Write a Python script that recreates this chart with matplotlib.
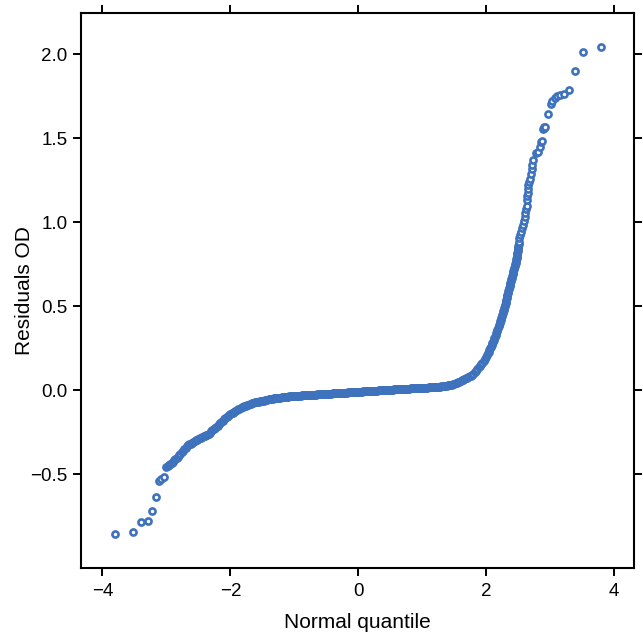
import matplotlib
matplotlib.use("Agg")
import matplotlib.pyplot as plt

plt.rcParams['font.family'] = ['Liberation Sans', 'DejaVu Sans']

# Theoretical normal quantiles (x) and sorted residuals (y)
lower_tail_q = [-3.80, -3.52, -3.39, -3.29, -3.22, -3.16, -3.12, -3.08, -3.04]
lower_tail_r = [-0.857, -0.845, -0.786, -0.778, -0.718, -0.635, -0.542, -0.528, -0.518]

body_q = [
    -3.00, -2.98, -2.96, -2.94, -2.92, -2.90, -2.88, -2.86, -2.84, -2.82,
    -2.80, -2.78, -2.76, -2.74, -2.72, -2.70, -2.68, -2.66, -2.64, -2.62,
    -2.60, -2.58, -2.56, -2.54, -2.52, -2.50, -2.48, -2.46, -2.44, -2.42,
    -2.40, -2.38, -2.36, -2.34, -2.32, -2.30, -2.28, -2.26, -2.24, -2.22,
    -2.20, -2.18, -2.16, -2.14, -2.12, -2.10, -2.08, -2.06, -2.04, -2.02,
    -2.00, -1.98, -1.96, -1.94, -1.92, -1.90, -1.88, -1.86, -1.84, -1.82,
    -1.80, -1.78, -1.76, -1.74, -1.72, -1.70, -1.68, -1.66, -1.64, -1.62,
    -1.60, -1.58, -1.56, -1.54, -1.52, -1.50, -1.48, -1.46, -1.44, -1.42,
    -1.40, -1.38, -1.36, -1.34, -1.32, -1.30, -1.28, -1.26, -1.24, -1.22,
    -1.20, -1.18, -1.16, -1.14, -1.12, -1.10, -1.08, -1.06, -1.04, -1.02,
    -1.00, -0.98, -0.96, -0.94, -0.92, -0.90, -0.88, -0.86, -0.84, -0.82,
    -0.80, -0.78, -0.76, -0.74, -0.72, -0.70, -0.68, -0.66, -0.64, -0.62,
    -0.60, -0.58, -0.56, -0.54, -0.52, -0.50, -0.48, -0.46, -0.44, -0.42,
    -0.40, -0.38, -0.36, -0.34, -0.32, -0.30, -0.28, -0.26, -0.24, -0.22,
    -0.20, -0.18, -0.16, -0.14, -0.12, -0.10, -0.08, -0.06, -0.04, -0.02,
    0.00, 0.02, 0.04, 0.06, 0.08, 0.10, 0.12, 0.14, 0.16, 0.18,
    0.20, 0.22, 0.24, 0.26, 0.28, 0.30, 0.32, 0.34, 0.36, 0.38,
    0.40, 0.42, 0.44, 0.46, 0.48, 0.50, 0.52, 0.54, 0.56, 0.58,
    0.60, 0.62, 0.64, 0.66, 0.68, 0.70, 0.72, 0.74, 0.76, 0.78,
    0.80, 0.82, 0.84, 0.86, 0.88, 0.90, 0.92, 0.94, 0.96, 0.98,
    1.00, 1.02, 1.04, 1.06, 1.08, 1.10, 1.12, 1.14, 1.16, 1.18,
    1.20, 1.22, 1.24, 1.26, 1.28, 1.30, 1.32, 1.34, 1.36, 1.38,
    1.40, 1.42, 1.44, 1.46, 1.48, 1.50, 1.52, 1.54, 1.56, 1.58,
    1.60, 1.62, 1.64, 1.66, 1.68, 1.70, 1.72, 1.74, 1.76, 1.78,
    1.80, 1.82, 1.84, 1.86, 1.88, 1.90, 1.92, 1.94, 1.96, 1.98,
    2.00]
body_r = [
    -0.455, -0.449, -0.443, -0.436, -0.430, -0.424, -0.418, -0.411, -0.405, -0.396,
    -0.387, -0.378, -0.369, -0.360, -0.350, -0.341, -0.332, -0.327, -0.322, -0.317,
    -0.313, -0.308, -0.303, -0.298, -0.294, -0.290, -0.287, -0.283, -0.279, -0.275,
    -0.272, -0.268, -0.264, -0.258, -0.252, -0.245, -0.239, -0.232, -0.225, -0.217,
    -0.210, -0.202, -0.195, -0.187, -0.180, -0.172, -0.165, -0.158, -0.152, -0.147,
    -0.142, -0.137, -0.133, -0.128, -0.124, -0.119, -0.114, -0.109, -0.105, -0.102,
    -0.099, -0.096, -0.093, -0.090, -0.087, -0.083, -0.080, -0.077, -0.074, -0.072,
    -0.071, -0.069, -0.067, -0.065, -0.064, -0.062, -0.061, -0.059, -0.058, -0.056,
    -0.054, -0.052, -0.051, -0.049, -0.048, -0.047, -0.046, -0.045, -0.044, -0.043,
    -0.042, -0.041, -0.041, -0.040, -0.039, -0.038, -0.037, -0.036, -0.035, -0.034,
    -0.0340, -0.0335, -0.0330, -0.0325, -0.0320, -0.0315, -0.0310, -0.0305, -0.0300, -0.0295,
    -0.0290, -0.0285, -0.0280, -0.0275, -0.0270, -0.0265, -0.0260, -0.0255, -0.0250, -0.0245,
    -0.0240, -0.0235, -0.0230, -0.0225, -0.0220, -0.0215, -0.0210, -0.0205, -0.0200, -0.0195,
    -0.0190, -0.0185, -0.0180, -0.0175, -0.0170, -0.0165, -0.0160, -0.0155, -0.0150, -0.0145,
    -0.0140, -0.0135, -0.0130, -0.0125, -0.0120, -0.0115, -0.0110, -0.0105, -0.0100, -0.0095,
    -0.0090, -0.0085, -0.0080, -0.0075, -0.0070, -0.0065, -0.0060, -0.0055, -0.0050, -0.0045,
    -0.0040, -0.0035, -0.0030, -0.0025, -0.0020, -0.0015, -0.0010, -0.0005, 0.0000, 0.0005,
    0.0010, 0.0015, 0.0020, 0.0025, 0.0030, 0.0035, 0.0040, 0.0045, 0.0050, 0.0055,
    0.0060, 0.0064, 0.0068, 0.0073, 0.0077, 0.0082, 0.0086, 0.0090, 0.0095, 0.0099,
    0.0104, 0.0108, 0.0112, 0.0117, 0.0121, 0.0126, 0.0130, 0.0134, 0.0139, 0.0143,
    0.0148, 0.0152, 0.0156, 0.0161, 0.0165, 0.0170, 0.0174, 0.0178, 0.0183, 0.0187,
    0.0192, 0.0196, 0.0200, 0.0210, 0.0220, 0.0230, 0.0240, 0.0250, 0.0260, 0.0275,
    0.0290, 0.0305, 0.0320, 0.0340, 0.0360, 0.0385, 0.0410, 0.0440, 0.0470, 0.0510,
    0.0560, 0.0600, 0.0640, 0.0680, 0.0720, 0.0760, 0.0800, 0.0840, 0.0880, 0.0930,
    0.0980, 0.1070, 0.1160, 0.1260, 0.1360, 0.1450, 0.1550, 0.1650, 0.1760, 0.1880,
    0.2000]

steep_q = [
    2.012, 2.024, 2.036, 2.048, 2.060, 2.072, 2.084, 2.096, 2.108, 2.120,
    2.129, 2.138, 2.147, 2.156, 2.165, 2.174, 2.183, 2.192, 2.201, 2.210,
    2.218, 2.226, 2.234, 2.242, 2.250, 2.258, 2.266, 2.274, 2.282, 2.290,
    2.296, 2.302, 2.308, 2.314, 2.320, 2.326, 2.332, 2.338, 2.344, 2.350,
    2.357, 2.364, 2.371, 2.378, 2.385, 2.392, 2.399, 2.406, 2.413, 2.420,
    2.426, 2.433, 2.439, 2.445, 2.451, 2.458, 2.464, 2.470,
    2.474, 2.478, 2.482, 2.486, 2.489, 2.493, 2.497, 2.501]
steep_r = [
    0.21, 0.22, 0.23, 0.24, 0.25, 0.26, 0.27, 0.28, 0.29, 0.30,
    0.31, 0.32, 0.33, 0.34, 0.35, 0.36, 0.37, 0.38, 0.39, 0.40,
    0.41, 0.42, 0.43, 0.44, 0.45, 0.46, 0.47, 0.48, 0.49, 0.50,
    0.51, 0.52, 0.53, 0.54, 0.55, 0.56, 0.57, 0.58, 0.59, 0.60,
    0.61, 0.62, 0.63, 0.64, 0.65, 0.66, 0.67, 0.68, 0.69, 0.70,
    0.71, 0.72, 0.73, 0.74, 0.75, 0.76, 0.77, 0.78,
    0.79, 0.80, 0.81, 0.82, 0.83, 0.84, 0.85, 0.86]

upper_q = [2.505, 2.512, 2.520, 2.535, 2.550, 2.565, 2.580, 2.590, 2.600, 2.610,
           2.620, 2.630, 2.640, 2.645, 2.650, 2.655, 2.660, 2.670, 2.680, 2.695,
           2.710, 2.720, 2.730, 2.780, 2.810, 2.840, 2.860, 2.870, 2.890, 2.900,
           2.910, 2.920, 2.970, 3.010, 3.030, 3.070, 3.110, 3.160, 3.220, 3.290,
           3.380, 3.520, 3.800]
upper_r = [0.870, 0.885, 0.905, 0.925, 0.944, 0.965, 0.984, 1.005, 1.033, 1.055,
           1.077, 1.100, 1.130, 1.155, 1.176, 1.200, 1.220, 1.240, 1.260, 1.290,
           1.315, 1.340, 1.370, 1.410, 1.420, 1.450, 1.480, 1.486, 1.555, 1.560,
           1.565, 1.570, 1.645, 1.704, 1.724, 1.738, 1.754, 1.757, 1.762, 1.788,
           1.899, 2.016, 2.042]

quantiles = lower_tail_q + body_q + steep_q + upper_q
residuals = lower_tail_r + body_r + steep_r + upper_r

x_ticks = [-4, -2, 0, 2, 4]
y_ticks = [-0.5, 0.0, 0.5, 1.0, 1.5, 2.0]
y_tick_labels = ["\u22120.5", "0.0", "0.5", "1.0", "1.5", "2.0"]

color = "#3f72bd"

fig = plt.figure(figsize=(6.43, 6.35), dpi=100)
ax = fig.add_axes([0.1255, 0.1055, 0.8605, 0.8735])

ax.plot(quantiles, residuals, linestyle='none', marker='o', markersize=4.4,
        markerfacecolor='white', markeredgecolor=color, markeredgewidth=1.9)

ax.set_xlim(-4.34, 4.31)
ax.set_ylim(-1.058, 2.244)
ax.set_xticks(x_ticks)
ax.set_yticks(y_ticks)
ax.set_yticklabels(y_tick_labels)

for s in ax.spines.values():
    s.set_linewidth(1.5)
    s.set_color('black')

ax.tick_params(axis='both', which='both', direction='out', length=6, width=1.4,
               top=True, right=True, labelsize=13.5, colors='black')
ax.tick_params(axis='x', pad=5)
ax.tick_params(axis='y', pad=3.5)

ax.set_xlabel("Normal quantile", fontsize=15, labelpad=9)
ax.set_ylabel("Residuals OD", fontsize=15)
ax.yaxis.set_label_coords(-0.0844, 0.5)

fig.savefig("out.png", dpi=100)
